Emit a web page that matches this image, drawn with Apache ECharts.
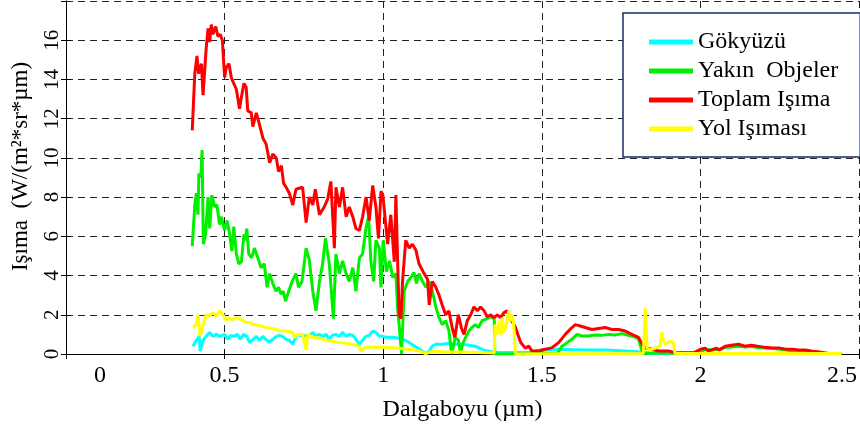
<!DOCTYPE html>
<html><head><meta charset="utf-8">
<script src="https://cdn.jsdelivr.net/npm/echarts@6/dist/echarts.min.js"></script>
<style>html,body{margin:0;padding:0;background:#fff}#c{width:860px;height:428px}</style>
</head><body><div id="c"></div>
<script>
const seriesNames = ['Gökyüzü', 'Yakın  Objeler', 'Toplam Işıma', 'Yol Işıması'];
const xTicks = [0, 0.5, 1, 1.5, 2, 2.5];
const yTicks = [0, 2, 4, 6, 8, 10, 12, 14, 16];

const skyX = [.40,.411,.42,.423,.432,.442,.453,.463,.474,.484,.5,.51,.521,.53,.54,.55,.56,.57,.579,.59,.6,.61,.62,.63,.64,.652,.663,.673,.683,.693,.704,.715,.725,.736,.746,.757,.767,.778,.788,.799,.81,.82,.83,.84,.85,.862,.872,.883,.893,.904,.914,.925,.935,.946,.956,.967,.977,.988,.999,1.01,1.03,1.05,1.07,1.09,1.113,1.134,1.145,1.155,1.166,1.186,1.207,1.227,1.25,1.27,1.29,1.31,1.33,1.35,1.45,1.5,1.55,1.6,1.65,1.7,1.75,1.8,1.82,1.85,2.444];
const skyY = [0.4,0.7,0.9,0.15,0.7,0.9,1.1,0.9,1.0,0.9,1.0,0.75,0.95,0.9,1.0,0.75,1.0,0.9,0.58,0.75,0.9,0.7,0.9,0.75,0.6,0.75,0.9,0.95,0.9,0.75,0.7,0.5,0.9,1.0,0.9,0.95,0.9,1.1,0.9,1.0,0.9,1.0,0.75,0.95,1.0,0.9,1.1,0.9,1.0,0.95,0.75,0.5,0.7,0.9,0.95,1.17,1.1,0.9,0.9,0.85,0.85,0.8,0.7,0.5,0.25,0.02,0.15,0.4,0.5,0.5,0.55,0.5,0.5,0.45,0.4,0.25,0.15,0.08,0.08,0.2,0.24,0.22,0.2,0.2,0.17,0.12,0.05,0.02,0.02];

const nearX = [.398,.406,.411,.416,.419,.425,.429,.433,.44,.448,.453,.46,.469,.476,.484,.49,.5,.508,.516,.523,.529,.537,.545,.553,.561,.565,.57,.576,.585,.594,.605,.615,.625,.634,.642,.652,.662,.67,.678,.685,.692,.702,.713,.725,.733,.744,.757,.767,.778,.788,.799,.809,.818,.83,.843,.851,.862,.872,.883,.893,.904,.914,.925,.935,.946,.954,.961,.97,.977,.988,.993,1.0,1.01,1.02,1.03,1.04,1.045,1.052,1.058,1.066,1.077,1.087,1.097,1.105,1.113,1.124,1.135,1.145,1.155,1.166,1.176,1.186,1.197,1.207,1.216,1.227,1.237,1.244,1.25,1.26,1.27,1.28,1.29,1.3,1.312,1.323,1.339,1.35,1.352,1.41,1.415,1.55,1.564,1.58,1.595,1.611,1.627,1.647,1.668,1.689,1.71,1.73,1.753,1.773,1.794,1.805,1.816,1.826,1.99,2.0,2.015,2.035,2.06,2.078,2.098,2.12,2.14,2.16,2.18,2.2,2.23,2.25,2.27,2.29,2.31,2.33,2.35,2.37,2.39,2.444];
const nearY = [5.5,7.6,8.2,7.1,9.2,9.0,10.4,5.6,6.1,8.0,6.4,8.1,7.5,7.6,6.6,7.0,6.3,6.8,6.1,5.25,6.5,5.1,4.6,4.7,6.1,5.8,6.4,5.1,4.9,5.4,4.9,4.4,4.6,3.4,4.1,3.6,3.2,3.4,3.05,3.2,2.7,3.2,3.7,4.1,3.4,3.7,5.4,4.8,3.2,2.2,3.7,4.6,5.9,4.6,1.8,5.1,4.1,4.75,4.1,3.7,4.4,3.2,4.9,5.1,6.45,7.0,4.75,3.7,5.8,5.4,3.4,5.8,4.2,4.75,3.9,4.1,2.4,1.17,0.0,3.2,3.7,3.9,4.15,3.6,4.1,3.7,3.4,3.7,3.2,2.4,1.85,1.5,1.7,1.2,0.0,0.85,0.7,0.0,0.5,0.85,1.17,1.35,1.5,1.35,1.7,1.77,1.9,1.8,0.0,0.0,0.05,0.05,0.4,0.58,0.75,1.0,0.92,0.92,0.97,0.95,1.0,0.97,1.04,0.95,0.87,0.75,0.15,0.05,0.05,0.1,0.24,0.2,0.24,0.33,0.36,0.4,0.36,0.38,0.33,0.3,0.28,0.24,0.2,0.15,0.15,0.12,0.1,0.07,0.03,0.02];

const totalX = [.398,.406,.413,.418,.427,.432,.442,.448,.453,.458,.463,.472,.479,.486,.493,.500,.505,.514,.521,.526,.537,.547,.553,.561,.568,.573,.584,.589,.600,.610,.621,.631,.642,.652,.663,.670,.679,.686,.694,.704,.715,.725,.731,.746,.757,.767,.778,.786,.799,.814,.825,.835,.846,.851,.862,.872,.883,.893,.904,.914,.925,.935,.946,.956,.967,.977,.985,.993,.999,1.014,1.024,1.035,1.040,1.050,1.056,1.061,1.071,1.082,1.092,1.103,1.113,1.129,1.140,1.145,1.155,1.166,1.176,1.186,1.197,1.207,1.218,1.226,1.237,1.247,1.255,1.265,1.276,1.286,1.297,1.307,1.318,1.328,1.339,1.349,1.36,1.37,1.38,1.39,1.40,1.417,1.433,1.448,1.459,1.469,1.49,1.51,1.53,1.553,1.574,1.595,1.606,1.616,1.637,1.658,1.679,1.700,1.721,1.742,1.763,1.784,1.805,1.816,1.826,1.847,1.868,1.9,1.92,1.95,1.98,2.0,2.015,2.025,2.05,2.06,2.078,2.098,2.12,2.14,2.16,2.18,2.2,2.23,2.25,2.27,2.29,2.31,2.33,2.35,2.37,2.39,2.41,2.444];
const totalY = [11.4,14.3,15.2,14.3,14.8,13.2,15.6,16.6,15.9,16.8,16.3,16.7,16.2,16.3,16.0,14.1,14.6,14.8,14.1,13.9,13.5,12.5,13.1,13.8,13.6,12.4,12.3,11.6,12.3,11.7,11.0,10.7,9.75,10.2,10.0,9.3,9.6,8.7,8.5,8.2,7.6,8.4,8.3,8.5,6.7,8.0,7.6,8.4,7.1,7.5,7.9,8.8,5.4,8.5,7.5,8.5,7.0,7.5,7.0,6.4,6.3,7.0,8.0,6.8,8.6,7.5,5.9,8.3,8.1,5.6,7.1,4.7,8.1,2.0,1.8,3.7,5.8,5.4,5.6,5.3,4.6,4.1,3.8,2.5,3.7,3.4,3.0,2.5,2.0,2.2,1.3,0.85,2.0,1.3,1.0,1.7,2.0,2.4,2.2,2.4,2.2,1.9,2.0,1.85,2.0,1.85,2.1,2.2,1.85,1.35,0.6,0.3,0.4,0.15,0.15,0.24,0.3,0.58,1.0,1.35,1.5,1.45,1.35,1.25,1.3,1.35,1.25,1.25,1.17,1.0,0.85,0.5,0.3,0.24,0.15,0.15,0.07,0.07,0.07,0.24,0.3,0.15,0.3,0.2,0.4,0.45,0.5,0.4,0.45,0.4,0.35,0.3,0.3,0.24,0.24,0.2,0.2,0.15,0.12,0.07,0.02,0.02];

const pathX = [.40,.411,.416,.423,.432,.442,.453,.463,.474,.484,.495,.505,.516,.526,.537,.547,.558,.568,.579,.59,.61,.63,.652,.673,.693,.715,.72,.731,.746,.757,.762,.778,.799,.82,.84,.862,.883,.904,.925,.93,.946,.967,.988,1.01,1.04,1.07,1.09,1.113,1.134,1.155,1.197,1.25,1.3,1.35,1.352,1.36,1.365,1.37,1.375,1.38,1.386,1.396,1.40,1.407,1.412,1.417,1.82,1.821,1.826,1.832,1.84,1.858,1.873,1.878,1.884,1.89,1.905,1.915,1.92,2.444];
const pathY = [1.35,1.5,2.0,0.9,1.5,2.0,1.95,2.1,1.95,2.2,2.0,1.7,1.85,1.75,1.85,1.8,1.7,1.6,1.6,1.5,1.45,1.35,1.3,1.2,1.17,1.1,0.85,1.0,1.0,0.2,1.0,0.85,0.8,0.7,0.65,0.58,0.55,0.5,0.4,0.15,0.35,0.36,0.35,0.35,0.3,0.25,0.22,0.15,0.02,0.15,0.1,0.1,0.08,0.05,1.5,1.0,1.7,0.95,1.85,1.1,1.35,2.2,1.7,2.0,1.35,0.0,0.02,0.3,2.35,0.3,0.2,0.3,0.4,1.1,0.65,0.5,0.65,0.6,0.02,0.02];

const colors = ['#00ffff', '#00f000', '#ff0000', '#ffff00'];
const zip = (xs, ys) => xs.map((x, i) => [x, ys[i]]);
const dataSets = [zip(skyX, skyY), zip(nearX, nearY), zip(totalX, totalY), zip(pathX, pathY)];

const FONT = '"Liberation Serif", "Times New Roman", serif';
const chart = echarts.init(document.getElementById('c'), null, {renderer: 'canvas'});
const gridDash = {type: [7, 5], color: '#222', width: 1};
const FS = 24;

chart.setOption({
  animation: false,
  backgroundColor: '#fff',
  textStyle: {fontFamily: FONT},
  grid: {left: 66, right: 1, top: 1, bottom: 74, containLabel: false},
  legend: {
    orient: 'vertical', left: 623, top: 13,
    padding: [17, 22, 16, 26], itemGap: 5,
    itemWidth: 44, itemHeight: 5, itemTextGap: 4,
    icon: 'rect',
    borderColor: '#1b2a6b', borderWidth: 1.5, backgroundColor: '#fff',
    textStyle: {fontFamily: FONT, fontSize: FS, color: '#000'},
    data: seriesNames
  },
  xAxis: [{
    type: 'value', min: xTicks[0], max: xTicks[xTicks.length - 1], interval: 0.5,
    name: 'Dalgaboyu (µm)', nameLocation: 'middle', nameGap: 44,
    nameTextStyle: {fontFamily: FONT, fontSize: FS, color: '#000'},
    axisLine: {lineStyle: {color: '#000', width: 1}},
    axisTick: {inside: true, length: 5, lineStyle: {color: '#000'}},
    axisLabel: {
      fontFamily: FONT, fontSize: FS, color: '#000', margin: 10,
      formatter: v => v === 0 ? '{l|0}' : (v === 2.5 ? '{r|2.5}' : String(v)),
      rich: {l: {fontFamily: FONT, fontSize: FS, color: '#000', padding: [0, 0, 0, 68]},
             r: {fontFamily: FONT, fontSize: FS, color: '#000', padding: [0, 34, 0, 0]}}
    },
    splitLine: {show: true, lineStyle: gridDash}
  }, {
    type: 'value', position: 'top', min: 0, max: 2.5, interval: 0.5,
    axisLine: {lineStyle: {color: '#000', width: 1}},
    axisTick: {inside: true, length: 5, lineStyle: {color: '#000'}},
    axisLabel: {show: false}, splitLine: {show: false}
  }],
  yAxis: [{
    type: 'value', min: 0, max: 18, interval: 2,
    name: 'Işıma  (W/(m²*sr*µm)', nameLocation: 'middle', nameGap: 34,
    nameTextStyle: {fontFamily: FONT, fontSize: 23, color: '#000', padding: [0, 0, 0, 22]},
    axisLine: {show: true, lineStyle: {color: '#000', width: 1}},
    axisTick: {show: true, inside: true, length: 5, lineStyle: {color: '#000'}},
    axisLabel: {fontFamily: FONT, fontSize: 21, color: '#000', rotate: 90, margin: 3, showMaxLabel: false,
      formatter: v => yTicks.indexOf(v) >= 0 ? String(v) : ''},
    splitLine: {show: true, lineStyle: gridDash}
  }, {
    type: 'value', position: 'right', min: 0, max: 18, interval: 2,
    axisLine: {show: true, lineStyle: {color: '#000', width: 1}},
    axisTick: {show: true, inside: true, length: 5, lineStyle: {color: '#000'}},
    axisLabel: {show: false}, splitLine: {show: false}
  }],
  series: seriesNames.map((n, i) => ({
    name: n, type: 'line', data: dataSets[i], xAxisIndex: 0, yAxisIndex: 0,
    showSymbol: false, symbol: 'none',
    lineStyle: {color: colors[i], width: 3},
    itemStyle: {color: colors[i]}
  }))
});
</script></body></html>
